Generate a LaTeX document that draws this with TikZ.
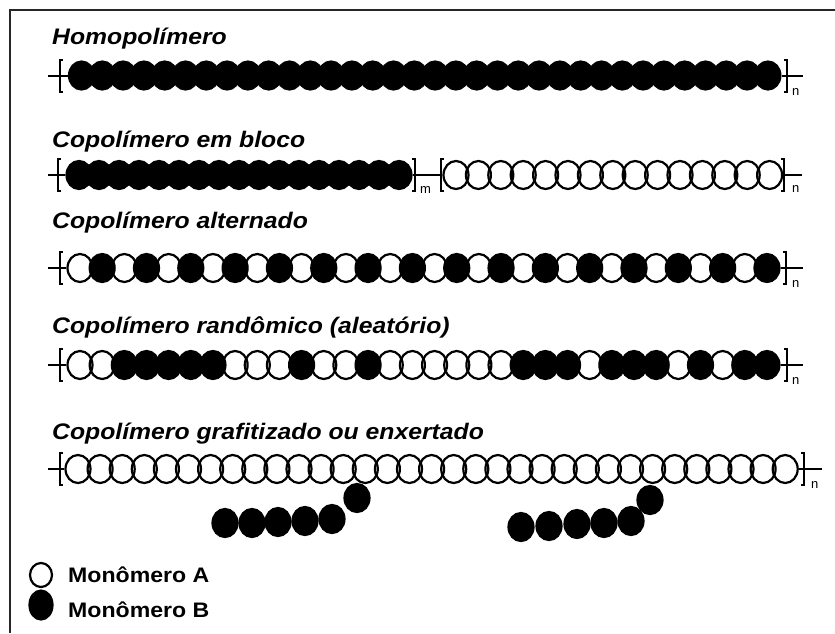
\documentclass[tikz,border=0pt]{standalone}
\usepackage{fontspec}
\setsansfont{Liberation Sans}
\newfontfamily\titlefont[FakeStretch=1.1]{Liberation Sans}
\usetikzlibrary{shapes.geometric}
\definecolor{ink}{HTML}{000000}

\tikzset{
  bead/.style={ellipse, inner sep=0pt, minimum width=25pt, minimum height=28pt, line width=2.2pt, draw=ink},
  monoA/.style={bead},
  monoB/.style={bead, fill=ink},
  brk/.style={line width=2pt, draw=ink},
  title/.style={anchor=base west, inner sep=0pt, font=\titlefont\bfseries\itshape\fontsize{22.5}{26}\selectfont},
  idx/.style={anchor=base west, inner sep=0pt, font=\sffamily\fontsize{13}{15}\selectfont},
  legend/.style={anchor=base west, inner sep=0pt, font=\titlefont\bfseries\fontsize{21}{24}\selectfont},
}

% square brackets around a repeat unit
\newcommand{\lbrk}[1]{\draw[brk] (#1) ++(3,-16) -- ++(-3,0) -- ++(0,32) -- ++(3,0);}
\newcommand{\rbrk}[1]{\draw[brk] (#1) ++(-3,-16) -- ++(3,0) -- ++(0,32) -- ++(-3,0);}

\begin{document}
\begin{tikzpicture}[x=1pt, y=-1pt]
  \useasboundingbox (0,0) rectangle (835,633);
  \draw[ink!85, line width=2pt] (10,633) -- (10,10) -- (835,10);

  % homopolymer
  \node[title] (tHomo) at (52,44) {Homopolímero};
  \foreach \k in {0,...,33}
    \node[monoB] (h\k) at (81.5+20.8*\k,75.5) {};
  \coordinate (hIn) at (48,75.5);
  \coordinate (hOut) at (803,75.5);
  \draw[brk] (hIn) -- (h0);
  \draw[brk] (h33) -- (hOut);
  \coordinate (hL) at (60,75.5);
  \coordinate (hR) at (787,75.5);
  \lbrk{hL} \rbrk{hR}
  \node[idx] (hN) at (792,95) {n};

  % block copolymer
  \node[title] (tBloco) at (52,147) {Copolímero em bloco};
  \foreach \k in {0,...,16}
    \node[monoB] (b\k) at (79+20*\k,175) {};
  \foreach \k in {0,...,14}
    \node[monoA] (a\k) at (456+22.4*\k,175) {};
  \coordinate (bIn) at (48,175);
  \coordinate (bOut) at (802,175);
  \draw[brk] (bIn) -- (b0);
  \draw[brk] (b16) -- (a0);
  \draw[brk] (a14) -- (bOut);
  \coordinate (bL) at (58,175);
  \coordinate (bM) at (415,175);
  \coordinate (aL) at (441,175);
  \coordinate (aR) at (784,175);
  \lbrk{bL} \rbrk{bM} \lbrk{aL} \rbrk{aR}
  \node[idx] (bMm) at (420,193) {m};
  \node[idx] (aN) at (792,192) {n};

  % alternating copolymer
  \node[title] (tAlt) at (52,228) {Copolímero alternado};
  \foreach \k in {0,2,...,30}
    \node[monoA] (l\k) at (80+22.16*\k,268) {};
  \foreach \k in {1,3,...,31}
    \node[monoB] (l\k) at (80+22.16*\k,268) {};
  \coordinate (lIn) at (48,268);
  \coordinate (lOut) at (803,268);
  \draw[brk] (lIn) -- (l0);
  \draw[brk] (l31) -- (lOut);
  \coordinate (lL) at (60,268);
  \coordinate (lR) at (786,268);
  \lbrk{lL} \rbrk{lR}
  \node[idx] (lN) at (792,287) {n};

  % random copolymer
  \node[title] (tRand) at (52,333) {Copolímero randômico (aleatório)};
  \foreach \k in {0,1,7,8,9,11,12,14,15,16,17,18,19,23,27,29}
    \node[monoA] (r\k) at (80+22.16*\k,365) {};
  \foreach \k in {2,3,4,5,6,10,13,20,21,22,24,25,26,28,30,31}
    \node[monoB] (r\k) at (80+22.16*\k,365) {};
  \coordinate (rIn) at (48,365);
  \coordinate (rOut) at (803,365);
  \draw[brk] (rIn) -- (r0);
  \draw[brk] (r31) -- (rOut);
  \coordinate (rL) at (60,365);
  \coordinate (rR) at (787,365);
  \lbrk{rL} \rbrk{rR}
  \node[idx] (rN) at (792,384) {n};

  % graft copolymer
  \node[title] (tGraft) at (52,439) {Copolímero grafitizado ou enxertado};
  \foreach \k in {0,...,32}
    \node[monoA] (g\k) at (78+22.1*\k,469) {};
  \coordinate (gIn) at (48,469);
  \coordinate (gOut) at (822,469);
  \draw[brk] (gIn) -- (g0);
  \draw[brk] (g32) -- (gOut);
  \coordinate (gL) at (60,469);
  \coordinate (gR) at (804,469);
  \lbrk{gL} \rbrk{gR}
  \node[idx] (gN) at (811,488) {n};

  % side chains
  \node[monoB] (s1) at (225,523) {};
  \node[monoB] (s2) at (252,523) {};
  \node[monoB] (s3) at (278,522) {};
  \node[monoB] (s4) at (305,521) {};
  \node[monoB] (s5) at (332,519) {};
  \node[monoB] (s6) at (357,498) {};
  \node[monoB] (t1) at (521,527) {};
  \node[monoB] (t2) at (549,526) {};
  \node[monoB] (t3) at (577,524) {};
  \node[monoB] (t4) at (604,523) {};
  \node[monoB] (t5) at (631,521) {};
  \node[monoB] (t6) at (650,500) {};

  % legend
  \node[monoA, minimum width=22pt, minimum height=24pt] (keyA) at (41,575) {};
  \node[monoB, minimum width=23pt, minimum height=29pt] (keyB) at (41,605) {};
  \node[legend] (keyAtxt) at (68,582) {Monômero A};
  \node[legend] (keyBtxt) at (68,617) {Monômero B};
\end{tikzpicture}
\end{document}
